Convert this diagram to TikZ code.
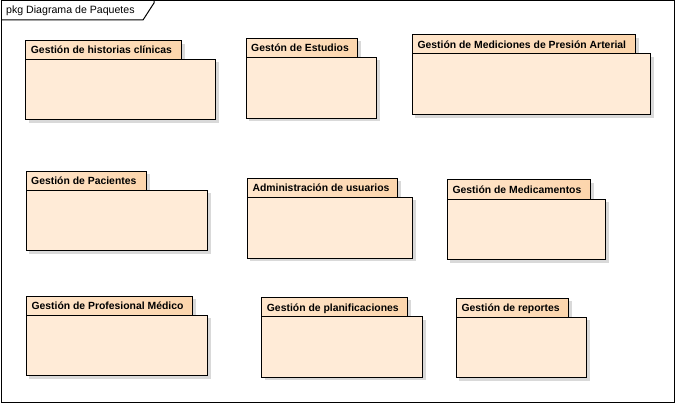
\documentclass[tikz,border=0pt]{standalone}
\usepackage{fontspec}
\setmainfont{Liberation Sans}
\definecolor{tabfill}{HTML}{FDDCB6}
\definecolor{tabfillL}{HTML}{FFE6CC}
\definecolor{tabfillR}{HTML}{FCD5AC}
\definecolor{bodyfill}{HTML}{FFEBD7}
\definecolor{shadowc}{HTML}{D9D9D9}
\tikzset{
  pkgline/.style={draw=black, line width=1pt},
  pkgbody/.style={pkgline, fill=bodyfill},
  pkgtab/.style={pkgline, left color=tabfillL, right color=tabfillR},
  pkgshadow/.style={fill=shadowc, draw=none},
  pkgtext/.style={anchor=base west, inner sep=0pt, font=\fontsize{10.4}{12}\selectfont\bfseries},
  frametext/.style={anchor=base west, inner sep=0pt, font=\fontsize{10.6}{12}\selectfont},
}
% #1 name, #2 x, #3 tab top, #4 tab right, #5 tab bottom, #6 body right, #7 body bottom, #8 text
\newcommand{\umlpkg}[8]{%
  \fill[pkgshadow] (#2+3,#3+3) rectangle (#4+3,#5+3);
  \fill[pkgshadow] (#2+3,#5+3) rectangle (#6+3,#7+3);
  \draw[pkgtab] (#2,#3) rectangle (#4,#5);
  \draw[pkgbody] (#2,#5) rectangle (#6,#7);
  \node[pkgtext] (#1) at (#2+5,#5-5.3) {#8};
}
\begin{document}
\begin{tikzpicture}[x=1pt,y=-1pt]
\useasboundingbox (0,0) rectangle (675,403);
\fill[white] (0,0) rectangle (675,403);
% frame
\draw[line width=1pt] (1,1) rectangle (674,402);
\draw[line width=1pt] (1,20) -- (143,20) -- (154,3) -- (154,1);
\node[frametext] (title) at (6,14) {pkg Diagrama de Paquetes};
% packages
\umlpkg{p1}{25.7}{40.7}{181.7}{59.3}{215.7}{120}{Gestión de historias clínicas}
\umlpkg{p2}{246}{38.3}{357.7}{57.3}{376.7}{118.3}{Gestón de Estudios}
\umlpkg{p3}{412.3}{35}{635.7}{54}{650.7}{115}{Gestión de Mediciones de Presión Arterial}
\umlpkg{p4}{26}{171.3}{146.7}{190.3}{207.7}{251}{Gestión de Pacientes}
\umlpkg{p5}{247.3}{178.3}{397.7}{197.3}{412.7}{258.3}{Administración de usuarios}
\umlpkg{p6}{447.3}{180}{590.7}{199.3}{605.7}{260}{Gestión de Medicamentos}
\umlpkg{p7}{26.3}{296.3}{192.7}{315.3}{207.7}{376}{Gestión de Profesional Médico}
\umlpkg{p8}{261.7}{297.3}{407.7}{316.7}{422.7}{377.3}{Gestión de planificaciones}
\umlpkg{p9}{456.3}{298.3}{568.7}{317.3}{586.7}{378}{Gestión de reportes}
\end{tikzpicture}
\end{document}
